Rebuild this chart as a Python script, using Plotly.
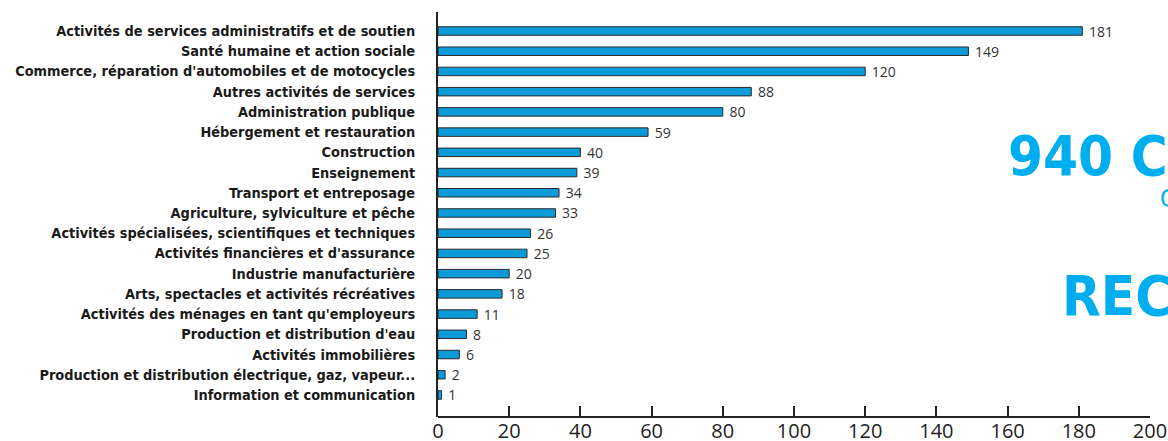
import plotly.graph_objects as go

categories = [
    "Activités de services administratifs et de soutien",
    "Santé humaine et action sociale",
    "Commerce, réparation d'automobiles et de motocycles",
    "Autres activités de services",
    "Administration publique",
    "Hébergement et restauration",
    "Construction",
    "Enseignement",
    "Transport et entreposage",
    "Agriculture, sylviculture et pêche",
    "Activités spécialisées, scientifiques et techniques",
    "Activités financières et d'assurance",
    "Industrie manufacturière",
    "Arts, spectacles et activités récréatives",
    "Activités des ménages en tant qu'employeurs",
    "Production et distribution d'eau",
    "Activités immobilières",
    "Production et distribution électrique, gaz, vapeur...",
    "Information et communication",
]
values = [181, 149, 120, 88, 80, 59, 40, 39, 34, 33, 26, 25, 20, 18, 11, 8, 6, 2, 1]
tick_vals = [0, 20, 40, 60, 80, 100, 120, 140, 160, 180, 200]

cats = categories[::-1]
vals = values[::-1]

fig = go.Figure()
fig.add_trace(go.Bar(
    x=vals, y=cats, orientation="h",
    marker=dict(color="#0A9BD8", line=dict(color="#2a2a2a", width=1)),
    width=0.42,
    text=[" " + str(v) for v in vals], textposition="outside",
    constraintext="none",
    textfont=dict(family="Open Sans, Lato, sans-serif", size=14, color="#333333"),
    cliponaxis=False,
))

fig.update_layout(
    width=1168, height=441,
    margin=dict(l=438, r=18, t=12, b=24),
    plot_bgcolor="white", paper_bgcolor="white",
    showlegend=False,
    xaxis=dict(range=[0, 200], tickvals=tick_vals, ticks="inside", ticklen=11,
               tickwidth=2, tickcolor="#222222", showgrid=False, zeroline=False,
               showline=False, automargin=False,
               ticklabelstandoff=0,
               tickfont=dict(family="Open Sans, Lato, sans-serif", size=20, color="#222222")),
    yaxis=dict(range=[-1.09, 18.94], showgrid=False, zeroline=False,
               showline=True, linecolor="#222222", linewidth=2, ticks="",
               automargin=False, ticklabelstandoff=18,
               tickfont=dict(family="DejaVu Sans Condensed, sans-serif",
                             size=14.4, color="#1a1a1a", weight="bold")),
    bargap=0.58,
)

# bottom axis line, slightly overhanging both ends as in the reference
fig.add_shape(type="line", xref="x", yref="paper", x0=-2.3, x1=200.5, y0=0, y1=0,
              line=dict(color="#222222", width=2))

big_font = dict(family="DejaVu Sans Condensed, sans-serif", size=56, color="#00AEEF", weight="bold")
fig.add_annotation(text="940 CO", x=(1006 - 438) / 712, y=(417 - 155) / 405,
                   xref="paper", yref="paper", showarrow=False,
                   xanchor="left", yanchor="middle", font=big_font)
fig.add_annotation(text="C", x=(1158 - 438) / 712, y=(417 - 199) / 405,
                   xref="paper", yref="paper", showarrow=False,
                   xanchor="left", yanchor="middle",
                   font=dict(family="DejaVu Sans Condensed, sans-serif", size=25, color="#00AEEF"))
fig.add_annotation(text="RECU", x=(1060 - 438) / 712, y=(417 - 295) / 405,
                   xref="paper", yref="paper", showarrow=False,
                   xanchor="left", yanchor="middle", font=big_font)

fig.write_html("out.html", config={"displayModeBar": False},
               post_script="document.body.style.margin='0';")
